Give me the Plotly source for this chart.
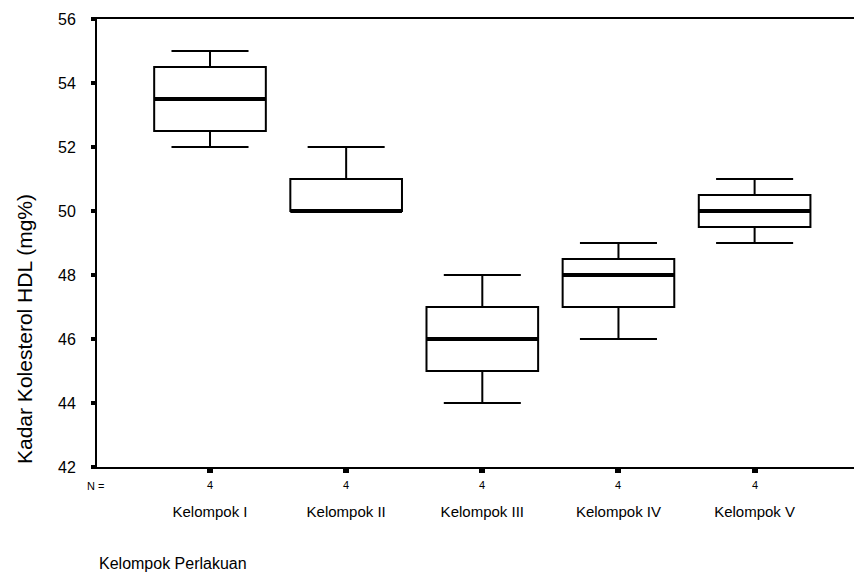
import plotly.graph_objects as go

categories = ["Kelompok I", "Kelompok II", "Kelompok III", "Kelompok IV", "Kelompok V"]
n_values = [4, 4, 4, 4, 4]
mins = [52, 50, 44, 46, 49]
q1s = [52.5, 50, 45, 47, 49.5]
medians = [53.5, 50, 46, 48, 50]
q3s = [54.5, 51, 47, 48.5, 50.5]
maxs = [55, 52, 48, 49, 51]
y_ticks = [42, 44, 46, 48, 50, 52, 54, 56]

FONT = "Liberation Sans, Arial, sans-serif"
pos = list(range(len(categories)))
box_w = 0.82

fig = go.Figure()
fig.add_trace(go.Box(
    x=pos, q1=q1s, median=medians, q3=q3s, lowerfence=mins, upperfence=maxs,
    width=box_w, whiskerwidth=0.69, fillcolor="white",
    line=dict(color="black", width=2), boxpoints=False, showlegend=False,
))
for i, m in zip(pos, medians):
    fig.add_trace(go.Scatter(
        x=[i - box_w / 2, i + box_w / 2], y=[m, m], mode="lines",
        line=dict(color="black", width=4), showlegend=False, hoverinfo="skip",
    ))

annotations = []
for i, n in zip(pos, n_values):
    annotations.append(dict(x=i, xref="x", y=-(485 - 467) / 448, yref="paper",
                            text=str(n), showarrow=False,
                            font=dict(family=FONT, size=11, color="black"),
                            xanchor="center", yanchor="middle"))
annotations.append(dict(x=-2 / 757, xref="paper", y=-(486 - 467) / 448, yref="paper",
                        text="N =", showarrow=False,
                        font=dict(family=FONT, size=11, color="black"),
                        xanchor="center", yanchor="middle"))
annotations.append(dict(x=(24 - 97) / 757, xref="paper", y=(467 - 329) / 448, yref="paper",
                        text="Kadar Kolesterol HDL (mg%)", textangle=-90, showarrow=False,
                        font=dict(family=FONT, size=21, color="black"),
                        xanchor="center", yanchor="middle"))
annotations.append(dict(x=0, xref="paper", y=-(563 - 467) / 448, yref="paper",
                        text="Kelompok Perlakuan", showarrow=False,
                        font=dict(family=FONT, size=16, color="black"),
                        xanchor="left", yanchor="middle"))

fig.update_layout(
    width=854, height=574,
    margin=dict(l=97, r=0, t=19, b=107),
    paper_bgcolor="white", plot_bgcolor="white",
    showlegend=False,
    annotations=annotations,
    xaxis=dict(
        range=[-0.83, 4.73], tickvals=pos, ticktext=categories,
        ticks="outside", ticklen=4, tickwidth=6, tickcolor="black",
        showline=True, linecolor="black", linewidth=2, mirror=True,
        showgrid=False, zeroline=False, ticklabelstandoff=26,
        tickfont=dict(family=FONT, size=15, color="black"),
    ),
    yaxis=dict(
        range=[42, 56], tickvals=y_ticks,
        ticks="outside", ticklen=4, tickwidth=4, tickcolor="black",
        showline=True, linecolor="black", linewidth=2,
        showgrid=False, zeroline=False, ticklabelstandoff=12,
        tickfont=dict(family=FONT, size=16, color="black"),
    ),
)

fig.write_html(
    "out.html",
    config={"displayModeBar": False},
    post_script="document.body.style.margin='0';document.body.style.overflow='hidden';",
)
